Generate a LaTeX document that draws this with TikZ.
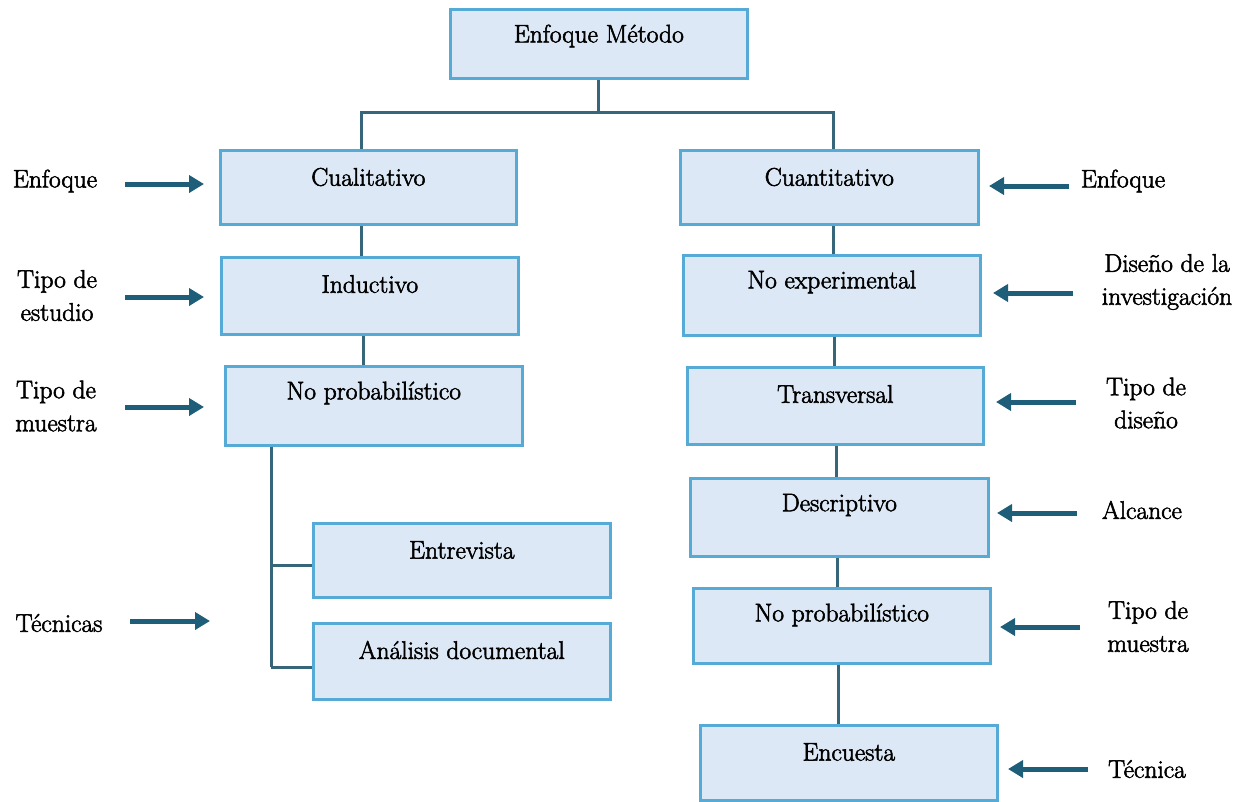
\documentclass[tikz,border=0pt]{standalone}
\usetikzlibrary{arrows.meta,calc}

\definecolor{boxfill}{HTML}{DCE8F5}
\definecolor{boxline}{HTML}{55AAD6}
\definecolor{linkcol}{HTML}{37667B}
\definecolor{arrcol}{HTML}{1F5E78}

% slightly heavier strokes for the text (fill + stroke rendering mode)
\newcommand{\heavyon}{\special{pdf:literal direct 2 Tr 0.55 w}}
\newcommand{\heavyoff}{\special{pdf:literal direct 0 Tr}}

\tikzset{
  textbase/.style={font=\fontsize{25.5}{33}\selectfont, text=black, inner sep=0pt,
    execute at begin node=\heavyon, execute at end node=\heavyoff},
  box/.style={draw=boxline, fill=boxfill, line width=2.6pt, inner sep=0pt, anchor=north west},
  boxtext/.style={textbase},
  sidelabel/.style={textbase, align=center},
  link/.style={draw=linkcol, line width=3pt},
  pointer/.style={draw=arrcol, line width=5pt, -{Triangle[length=15pt,width=17pt]}}
}

% \mybox{name}{x}{y}{width}{height}{text}
\newcommand{\mybox}[6]{%
  \node[box, minimum width=#4pt, minimum height=#5pt] (#1) at (#2,#3) {};
  \node[boxtext] (#1-t) at ($(#1.north)+(0,28)$) {#6};
}

\begin{document}
\begin{tikzpicture}[x=1pt, y=-1pt]
\useasboundingbox (0,0) rectangle (1247,801);

% boxes
\mybox{top}{449}{8}{297}{69}{Enfoque Método}
\mybox{cual}{219}{149}{296}{74}{Cualitativo}
\mybox{induc}{220}{256}{297}{77}{Inductivo}
\mybox{npl}{224}{365}{297}{79}{No probabilístico}
\mybox{entre}{312}{522}{297}{74}{Entrevista}
\mybox{anal}{312}{622}{297}{76}{Análisis documental}
\mybox{cuant}{679}{149}{298}{74}{Cuantitativo}
\mybox{noexp}{682}{254}{297}{80}{No experimental}
\mybox{trans}{686}{366}{296}{77}{Transversal}
\mybox{desc}{689}{477}{298}{78}{Descriptivo}
\mybox{npr}{692}{587}{297}{75}{No probabilístico}
\mybox{enc}{699}{724}{297}{75}{Encuesta}

% tree connectors
\coordinate (split) at (top.south |- 0,112);
\coordinate (lcol) at (361,0);
\coordinate (rcol) at (833,0);
\draw[link] (top.south) -- (split);
\draw[link] (split) -| (lcol |- cual.north);
\draw[link] (split) -| (rcol |- cuant.north);
\draw[link] (lcol |- cual.south) -- (lcol |- induc.north);
\draw[link] (363,0 |- induc.south) -- (363,0 |- npl.north);
\coordinate (bx) at (271,0);
\coordinate (bend) at (271,667);
\draw[link] (bx |- npl.south) -- (bend);
\draw[link] (bx |- 0,565) -- (entre.west |- 0,565);
\draw[link] (bend) -- (anal.west |- bend);
\draw[link] (rcol |- cuant.south) -- (rcol |- noexp.north);
\draw[link] (834,0 |- noexp.south) -- (834,0 |- trans.north);
\draw[link] (836,0 |- trans.south) -- (836,0 |- desc.north);
\draw[link] (837.5,0 |- desc.south) -- (837.5,0 |- npr.north);
\draw[link] (838,0 |- npr.south) -- (838,0 |- enc.north);

% side labels
\node[sidelabel] (l1) at (55,181) {Enfoque};
\node[sidelabel] (l2) at (57,295.5) {Tipo de\\estudio};
\node[sidelabel] (l3) at (56,406) {Tipo de\\muestra};
\node[sidelabel] (l4) at (59,623) {Técnicas};
\node[sidelabel] (r1) at (1123,181) {Enfoque};
\node[sidelabel] (r2) at (1167,282) {Diseño de la\\investigación};
\node[sidelabel] (r3) at (1146,403) {Tipo de\\diseño};
\node[sidelabel] (r4) at (1142,510) {Alcance};
\node[sidelabel] (r5) at (1148,626.5) {Tipo de\\muestra};
\node[sidelabel] (r6) at (1147,769) {Técnica};

% pointer arrows
\coordinate (a1s) at (125,184);  \coordinate (a1e) at (204,184);
\coordinate (a2s) at (125,297);  \coordinate (a2e) at (204,297);
\coordinate (a3s) at (125,407);  \coordinate (a3e) at (204,407);
\coordinate (a4s) at (130,621);  \coordinate (a4e) at (210,621);
\coordinate (b1s) at (1069,186); \coordinate (b1e) at (989,186);
\coordinate (b2s) at (1073,293); \coordinate (b2e) at (993,293);
\coordinate (b3s) at (1076,402); \coordinate (b3e) at (996,402);
\coordinate (b4s) at (1077,513); \coordinate (b4e) at (997,513);
\coordinate (b5s) at (1080,627); \coordinate (b5e) at (1000,627);
\coordinate (b6s) at (1088,769); \coordinate (b6e) at (1008,769);
\foreach \p in {a1,a2,a3,a4,b1,b2,b3,b4,b5,b6}
  \draw[pointer] (\p s) -- (\p e);
\end{tikzpicture}
\end{document}
